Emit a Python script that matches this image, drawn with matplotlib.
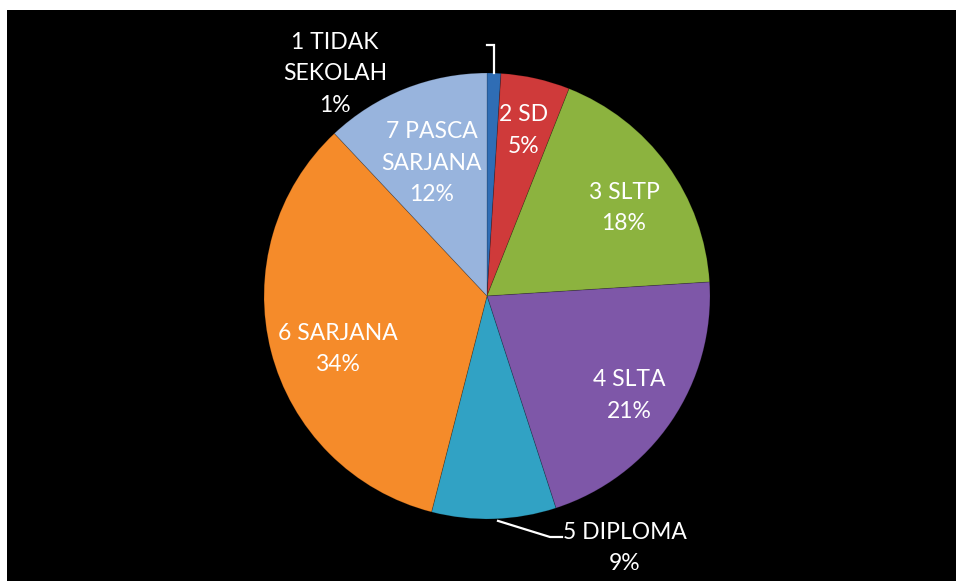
import numpy as np
import matplotlib
matplotlib.use("Agg")
import matplotlib.pyplot as plt
from matplotlib.patches import Rectangle

categories = ["1 TIDAK\nSEKOLAH", "2 SD", "3 SLTP", "4 SLTA", "5 DIPLOMA", "6 SARJANA", "7 PASCA\nSARJANA"]
values = [1, 5, 18, 21, 9, 34, 12]
pct_labels = ["1%", "5%", "18%", "21%", "9%", "34%", "12%"]

colors = ["#2F6DB5", "#CF3A3A", "#8CB33F", "#7E57A8", "#31A2C4", "#F58B2A", "#98B4DD"]
# label placement for inside labels: (radial factor, angular offset in degrees, clockwise)
label_pos = [None, (0.76, 0), (0.73, 3.3), (0.78, 0.8), None, (0.71, -5.2), (0.645, -1.0)]

plt.rcParams['font.family'] = ['Lato', 'DejaVu Sans']

W, H = 956, 581
fig = plt.figure(figsize=(W / 100, H / 100), dpi=100)
fig.patch.set_facecolor("white")
bg = Rectangle((7 / W, 0), 1.0, (H - 10) / H, transform=fig.transFigure,
               facecolor="black", edgecolor="none", zorder=-10)
fig.patches.append(bg)
ax = fig.add_axes([7 / W, 0, (W - 7) / W, (H - 10) / H])
ax.set_zorder(1)
ax.patch.set_alpha(0)
for s in ax.spines.values():
    s.set_visible(False)

cx, cy, R = 487, 581 - 296, 223
wedges, _ = ax.pie(values, colors=colors, startangle=90, counterclock=False,
                   center=(cx, cy), radius=R, frame=True,
                   wedgeprops=dict(edgecolor=(0, 0, 0, 0.2), linewidth=0.6))
ax.set_xlim(7, W)
ax.set_ylim(0, H - 10)
ax.set_aspect('equal', adjustable='datalim')
ax.set_xticks([]); ax.set_yticks([])
ax.patch.set_alpha(0)

fs = 16.5
ls = 1.62
for w, cat, pct, lp in zip(wedges, categories, pct_labels, label_pos):
    if lp is None:
        continue
    rf, off = lp
    mid = np.deg2rad((w.theta1 + w.theta2) / 2 - off)
    x = cx + rf * R * np.cos(mid)
    y = cy + rf * R * np.sin(mid)
    ax.text(x, y, cat + "\n" + pct, ha='center', va='center', color='white',
            fontsize=fs, linespacing=ls)

# outside label: 1 TIDAK SEKOLAH
w0 = wedges[0]
a0 = np.deg2rad((w0.theta1 + w0.theta2) / 2)
x0 = cx + R * np.cos(a0)
y0 = cy + R * np.sin(a0)
ax.plot([x0, x0, x0 - 7], [y0, 581 - 45, 581 - 45], color='white', lw=1.6,
        solid_joinstyle='miter')
ax.text(335, 581 - 74, categories[0] + "\n" + pct_labels[0], ha='center', va='center',
        color='white', fontsize=fs, linespacing=ls)

# outside label: 5 DIPLOMA
w4 = wedges[4]
a4 = np.deg2rad((w4.theta1 + w4.theta2) / 2)
x4 = cx + R * np.cos(a4)
y4 = cy + R * np.sin(a4)
ax.plot([x4 + 4, 550, 562], [y4 - 2, 581 - 537, 581 - 537], color='white', lw=1.6)
ax.text(625, 581 - 548, categories[4] + "\n" + pct_labels[4], ha='center', va='center',
        color='white', fontsize=fs, linespacing=ls)

fig.savefig("out.png", dpi=100, facecolor=fig.get_facecolor())
